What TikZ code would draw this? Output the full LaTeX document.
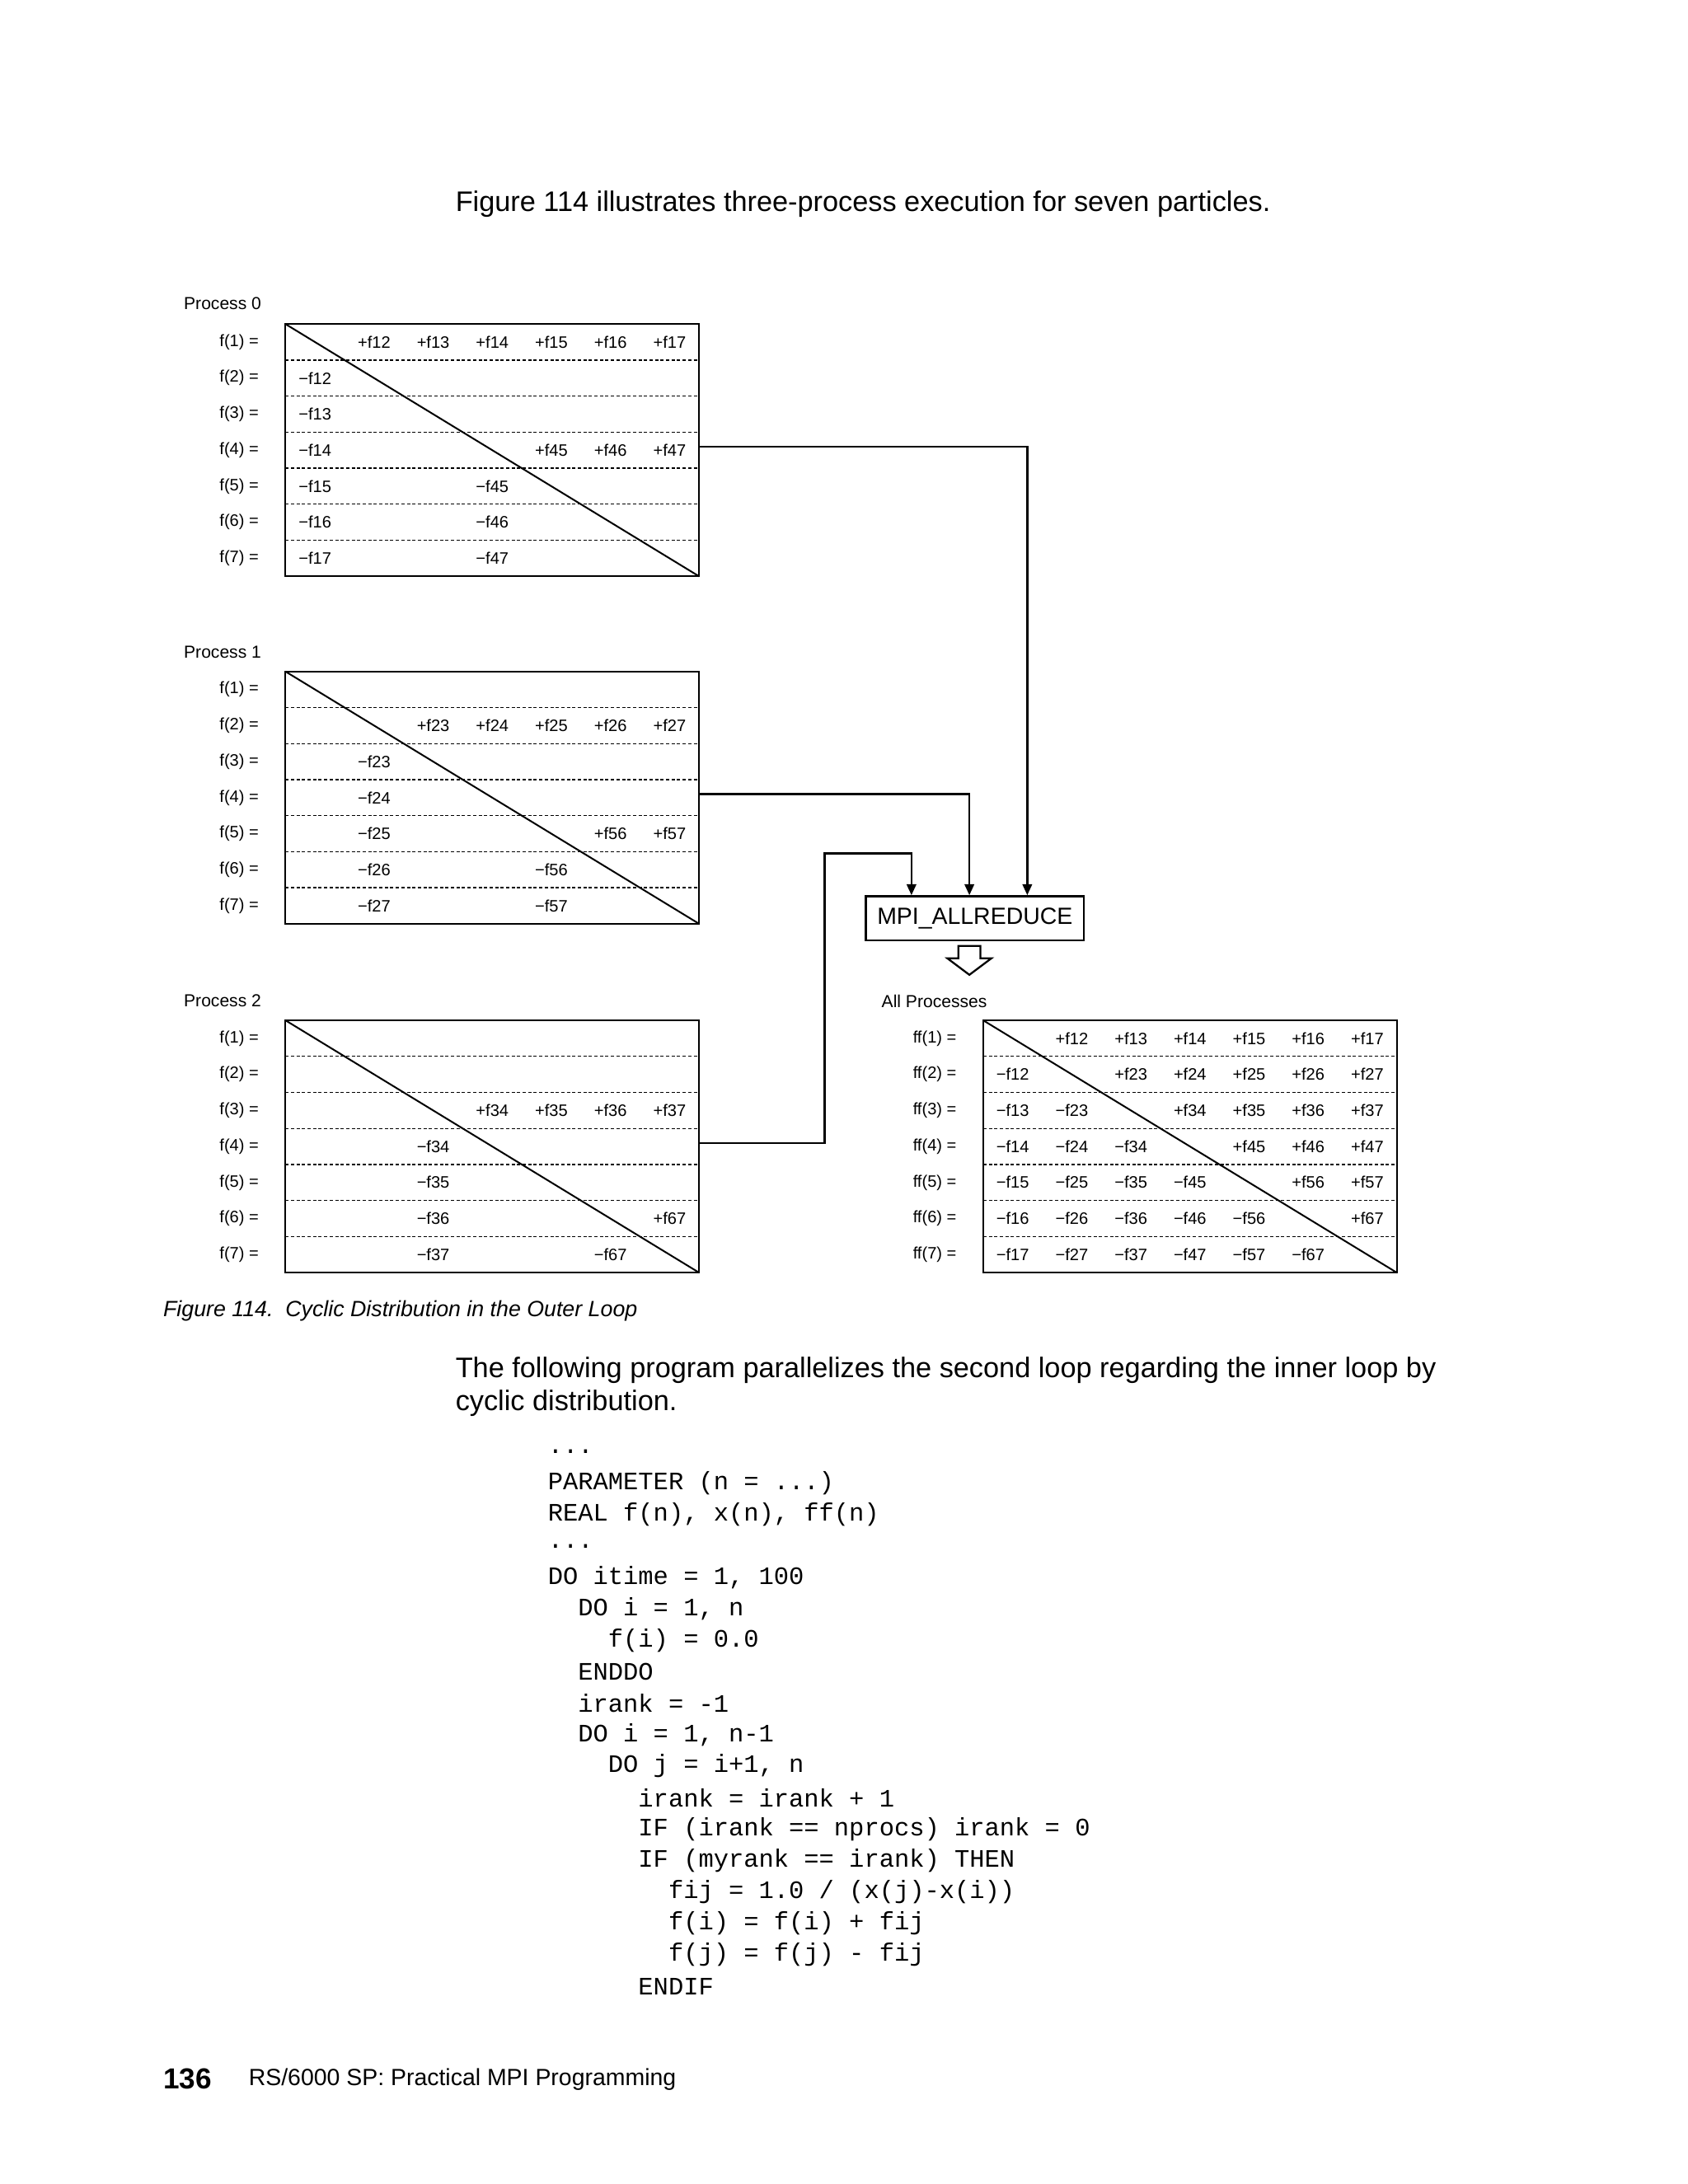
\documentclass[tikz,border=0pt]{standalone}
\usepackage{fontspec}
\setmainfont{Liberation Sans}
\setmonofont{Liberation Mono}
\usetikzlibrary{arrows.meta}
\newcommand\dd{.{}.{}.}
\tikzset{
  cellt/.style={font=\fontsize{6}{7}\selectfont,inner sep=0pt},
  rowl/.style={font=\fontsize{6}{7}\selectfont,inner sep=0pt,anchor=east},
  plab/.style={font=\fontsize{6.3}{7}\selectfont,inner sep=0pt,anchor=west},
  frame/.style={line width=0.7pt},
  sep/.style={dashed,dash pattern=on 1.2pt off 0.8pt,line width=0.4pt},
  conn/.style={line width=0.8pt,-{Triangle[length=4pt,width=3.4pt]}},
  body/.style={font=\fontsize{10.25}{12}\selectfont,inner sep=0pt,anchor=west},
  code/.style={font=\ttfamily\fontsize{9.1}{11}\selectfont,inner sep=0pt,anchor=west},
}
\newcommand\mytable[3]{% x0,y0,prefix
  \draw[frame] (#1,#2) rectangle ({#1+300},{#2+183});
  \foreach \r in {1,...,6} \draw[sep] (#1,{#2+26.14*\r}) -- ({#1+300},{#2+26.14*\r});
  \draw[line width=0.6pt] (#1,#2) -- ({#1+300},{#2+183});
  \foreach \r in {1,...,7} \node[rowl] at ({#1-19},{#2+26.14*(\r-0.5)}) {#3(\r) =};
}
\newcommand\pair[3]{% x0,y0,a
  \pgfmathtruncatemacro\aa{#3}\pgfmathtruncatemacro\bb{#3+1}
  \foreach \c in {\bb,...,7}{
    \node[cellt] at ({#1+42.86*(\c-0.5)},{#2+26.14*(\aa-0.5)}) {+f\aa\c};
    \node[cellt] at ({#1+42.86*(\aa-0.5)},{#2+26.14*(\c-0.5)}) {−f\aa\c};
  }
}
\begin{document}
\begin{tikzpicture}[x=0.5pt,y=-0.5pt]
\useasboundingbox (0,0) rectangle (1224,1584);
\node[body] at (330,148) {Figure 114 illustrates three-process execution for seven particles.};
\node[plab] at (133,220) {Process 0};
\mytable{207}{235}{f}
\pair{207}{235}{1}\pair{207}{235}{4}
\node[plab] at (133,473) {Process 1};
\mytable{207}{487}{f}
\pair{207}{487}{2}\pair{207}{487}{5}
\node[plab] at (133,726) {Process 2};
\mytable{207}{740}{f}
\pair{207}{740}{3}\pair{207}{740}{6}
\node[plab] at (639,726) {All Processes};
\mytable{713}{740}{ff}
\foreach \a in {1,...,6}{\pair{713}{740}{\a}}
\node[draw,line width=0.7pt,minimum width=79pt,minimum height=16pt,inner sep=0pt,font=\fontsize{8.5}{10}\selectfont] (mpi) at (707,666) {MPI\_ALLREDUCE};
\coordinate (o0) at (507,324);
\coordinate (o1) at (507,576);
\coordinate (o2) at (507,829);
\draw[conn] (o0) -- (745,324) -- (mpi.north -| 745,0);
\draw[conn] (o1) -- (703,576) -- (mpi.north -| 703,0);
\draw[conn] (o2) -- (598,829) -- (598,619) -- (661,619) -- (mpi.north -| 661,0);
\draw[line width=0.7pt] (695,686) -- (711,686) -- (711,695) -- (719,695) -- (703,707) -- (687,695) -- (695,695) -- cycle;
\node[body,font=\itshape\fontsize{8}{10}\selectfont] at (118,951) {Figure 114.\ \ Cyclic Distribution in the Outer Loop};
\node[body] at (330,994) {The following program parallelizes the second loop regarding the inner loop by};
\node[body] at (330,1018) {cyclic distribution.};
\foreach \i/\t [count=\k from 0] in {0/{\dd},0/{PARAMETER (n = \dd)},0/{REAL f(n), x(n), ff(n)},0/{\dd},0/{DO itime = 1, 100},2/{DO i = 1, n},4/{f(i) = 0.0},2/{ENDDO},2/{irank = -1},2/{DO i = 1, n-1},4/{DO j = i+1, n},6/{irank = irank + 1},6/{IF (irank == nprocs) irank = 0},6/{IF (myrank == irank) THEN},8/{fij = 1.0 / (x(j)-x(i))},8/{f(i) = f(i) + fij},8/{f(j) = f(j) - fij},6/{ENDIF}}
  \node[code] at ({397+10.92*\i},{1053+22.8*\k}) {\t};
\node[body,font=\bfseries\fontsize{10.5}{12}\selectfont] at (118,1508) {136};
\node[body,font=\fontsize{8.5}{10}\selectfont] at (180,1508) {RS/6000 SP: Practical MPI Programming};
\end{tikzpicture}
\end{document}
